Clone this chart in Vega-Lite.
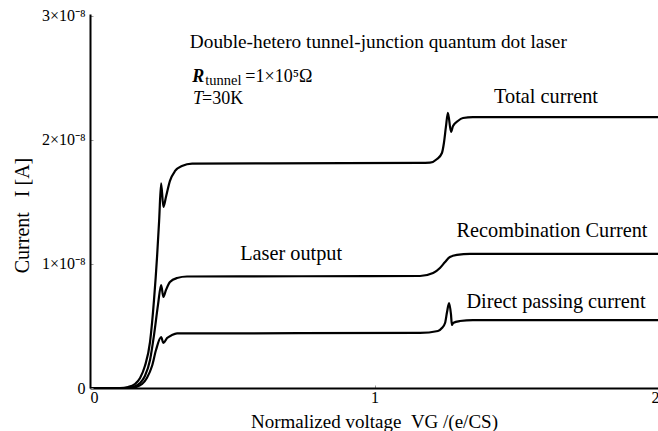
{
  "$schema": "https://vega.github.io/schema/vega-lite/v6.json",
  "width": 569,
  "height": 374,
  "autosize": {"type": "none"},
  "padding": {"left": 90, "top": 14, "right": 0, "bottom": 43},
  "background": "white",
  "config": {
    "font": "Liberation Serif",
    "view": {"stroke": null},
    "axis": {
      "labelFont": "Liberation Serif",
      "titleFont": "Liberation Serif",
      "labelColor": "black",
      "titleColor": "black",
      "labelFontSize": 16,
      "titleFontSize": 20,
      "titleFontWeight": "normal",
      "domainColor": "black",
      "domainWidth": 2,
      "grid": false,
      "tickSize": -3,
      "tickColor": "#999",
      "labelOverlap": false,
      "labelBound": false
    }
  },
  "layer": [
    {
      "data": {
        "values": [
          {"series": "Total current", "v": 0, "i": 0},
          {"series": "Total current", "v": 0.105, "i": 0},
          {"series": "Total current", "v": 0.134, "i": 0.008e-8},
          {"series": "Total current", "v": 0.158, "i": 0.032e-8},
          {"series": "Total current", "v": 0.176, "i": 0.081e-8},
          {"series": "Total current", "v": 0.193, "i": 0.177e-8},
          {"series": "Total current", "v": 0.211, "i": 0.371e-8},
          {"series": "Total current", "v": 0.225, "i": 0.71e-8},
          {"series": "Total current", "v": 0.236, "i": 1.07e-8},
          {"series": "Total current", "v": 0.243, "i": 1.35e-8},
          {"series": "Total current", "v": 0.25, "i": 1.65e-8},
          {"series": "Total current", "v": 0.258, "i": 1.46e-8},
          {"series": "Total current", "v": 0.267, "i": 1.54e-8},
          {"series": "Total current", "v": 0.281, "i": 1.67e-8},
          {"series": "Total current", "v": 0.299, "i": 1.75e-8},
          {"series": "Total current", "v": 0.323, "i": 1.79e-8},
          {"series": "Total current", "v": 0.359, "i": 1.81e-8},
          {"series": "Total current", "v": 1.16, "i": 1.815e-8},
          {"series": "Total current", "v": 1.195, "i": 1.818e-8},
          {"series": "Total current", "v": 1.22, "i": 1.847e-8},
          {"series": "Total current", "v": 1.237, "i": 1.895e-8},
          {"series": "Total current", "v": 1.244, "i": 1.976e-8},
          {"series": "Total current", "v": 1.251, "i": 2.105e-8},
          {"series": "Total current", "v": 1.258, "i": 2.218e-8},
          {"series": "Total current", "v": 1.269, "i": 2.065e-8},
          {"series": "Total current", "v": 1.276, "i": 2.113e-8},
          {"series": "Total current", "v": 1.293, "i": 2.153e-8},
          {"series": "Total current", "v": 1.311, "i": 2.177e-8},
          {"series": "Total current", "v": 1.346, "i": 2.185e-8},
          {"series": "Total current", "v": 2.0, "i": 2.185e-8},
          {"series": "Laser output", "v": 0, "i": 0},
          {"series": "Laser output", "v": 0.123, "i": 0},
          {"series": "Laser output", "v": 0.151, "i": 0.008e-8},
          {"series": "Laser output", "v": 0.176, "i": 0.04e-8},
          {"series": "Laser output", "v": 0.193, "i": 0.097e-8},
          {"series": "Laser output", "v": 0.211, "i": 0.226e-8},
          {"series": "Laser output", "v": 0.225, "i": 0.427e-8},
          {"series": "Laser output", "v": 0.239, "i": 0.67e-8},
          {"series": "Laser output", "v": 0.25, "i": 0.83e-8},
          {"series": "Laser output", "v": 0.258, "i": 0.734e-8},
          {"series": "Laser output", "v": 0.267, "i": 0.79e-8},
          {"series": "Laser output", "v": 0.281, "i": 0.855e-8},
          {"series": "Laser output", "v": 0.306, "i": 0.887e-8},
          {"series": "Laser output", "v": 0.341, "i": 0.899e-8},
          {"series": "Laser output", "v": 1.16, "i": 0.903e-8},
          {"series": "Laser output", "v": 1.206, "i": 0.927e-8},
          {"series": "Laser output", "v": 1.23, "i": 0.968e-8},
          {"series": "Laser output", "v": 1.248, "i": 1.016e-8},
          {"series": "Laser output", "v": 1.265, "i": 1.056e-8},
          {"series": "Laser output", "v": 1.29, "i": 1.073e-8},
          {"series": "Laser output", "v": 1.336, "i": 1.081e-8},
          {"series": "Laser output", "v": 2.0, "i": 1.081e-8},
          {"series": "Direct passing current", "v": 0, "i": 0},
          {"series": "Direct passing current", "v": 0.134, "i": 0},
          {"series": "Direct passing current", "v": 0.162, "i": 0.008e-8},
          {"series": "Direct passing current", "v": 0.183, "i": 0.032e-8},
          {"series": "Direct passing current", "v": 0.2, "i": 0.081e-8},
          {"series": "Direct passing current", "v": 0.218, "i": 0.177e-8},
          {"series": "Direct passing current", "v": 0.232, "i": 0.306e-8},
          {"series": "Direct passing current", "v": 0.25, "i": 0.41e-8},
          {"series": "Direct passing current", "v": 0.258, "i": 0.363e-8},
          {"series": "Direct passing current", "v": 0.271, "i": 0.403e-8},
          {"series": "Direct passing current", "v": 0.288, "i": 0.427e-8},
          {"series": "Direct passing current", "v": 0.306, "i": 0.44e-8},
          {"series": "Direct passing current", "v": 1.16, "i": 0.444e-8},
          {"series": "Direct passing current", "v": 1.223, "i": 0.46e-8},
          {"series": "Direct passing current", "v": 1.237, "i": 0.484e-8},
          {"series": "Direct passing current", "v": 1.248, "i": 0.524e-8},
          {"series": "Direct passing current", "v": 1.255, "i": 0.613e-8},
          {"series": "Direct passing current", "v": 1.262, "i": 0.685e-8},
          {"series": "Direct passing current", "v": 1.269, "i": 0.589e-8},
          {"series": "Direct passing current", "v": 1.272, "i": 0.508e-8},
          {"series": "Direct passing current", "v": 1.276, "i": 0.524e-8},
          {"series": "Direct passing current", "v": 1.3, "i": 0.54e-8},
          {"series": "Direct passing current", "v": 1.346, "i": 0.548e-8},
          {"series": "Direct passing current", "v": 2.0, "i": 0.548e-8}
        ]
      },
      "mark": {"type": "line", "color": "black", "strokeWidth": 2.2, "interpolate": "monotone", "clip": true},
      "encoding": {
        "x": {
          "field": "v", "type": "quantitative",
          "scale": {"domain": [0, 2], "nice": false},
          "axis": {
            "values": [0, 1, 2],
            "labelExpr": "format(datum.value, 'd')",
            "labelPadding": 4,
            "title": "Normalized voltage\u00a0\u00a0VG /(e/CS)",
            "titleFontSize": 19,
            "titleX": 284, "titleY": 33, "titleBaseline": "middle", "titleAlign": "center"
          }
        },
        "y": {
          "field": "i", "type": "quantitative",
          "scale": {"domain": [0, 3.016e-8], "nice": false, "zero": true},
          "axis": {
            "values": [0, 1e-8, 2e-8, 3e-8],
            "labelExpr": "datum.value == 0 ? '0' : format(datum.value * 1e8, 'd') + '×10⁻⁸'",
            "labelPadding": 8,
            "title": "Current\u00a0\u00a0\u00a0I\u00a0[A]",
            "titleX": -68, "titleY": 201, "titleAngle": -90, "titleAlign": "center", "titleBaseline": "middle"
          }
        },
        "detail": {"field": "series"}
      }
    },
    {
      "data": {"values": [{}]},
      "mark": {"type": "text", "text": "Double-hetero tunnel-junction quantum dot laser", "align": "left", "baseline": "middle", "fontSize": 19.3, "font": "Liberation Serif", "color": "black"},
      "encoding": {"x": {"datum": 0.351, "type": "quantitative"}, "y": {"datum": 2.79e-8, "type": "quantitative"}}
    },
    {
      "data": {"values": [{}]},
      "mark": {"type": "text", "text": "R", "align": "left", "baseline": "middle", "fontSize": 18, "fontWeight": "bold", "fontStyle": "italic", "font": "Liberation Serif", "color": "black"},
      "encoding": {"x": {"datum": 0.359, "type": "quantitative"}, "y": {"datum": 2.508e-8, "type": "quantitative"}}
    },
    {
      "data": {"values": [{}]},
      "mark": {"type": "text", "text": "tunnel", "align": "left", "baseline": "middle", "fontSize": 14.5, "font": "Liberation Serif", "color": "black"},
      "encoding": {"x": {"datum": 0.405, "type": "quantitative"}, "y": {"datum": 2.472e-8, "type": "quantitative"}}
    },
    {
      "data": {"values": [{}]},
      "mark": {"type": "text", "text": "=1×10⁵Ω", "align": "left", "baseline": "middle", "fontSize": 18, "font": "Liberation Serif", "color": "black"},
      "encoding": {"x": {"datum": 0.546, "type": "quantitative"}, "y": {"datum": 2.508e-8, "type": "quantitative"}}
    },
    {
      "data": {"values": [{}]},
      "mark": {"type": "text", "text": "T", "align": "left", "baseline": "middle", "fontSize": 18, "fontStyle": "italic", "font": "Liberation Serif", "color": "black"},
      "encoding": {"x": {"datum": 0.362, "type": "quantitative"}, "y": {"datum": 2.33e-8, "type": "quantitative"}}
    },
    {
      "data": {"values": [{}]},
      "mark": {"type": "text", "text": "=30K", "align": "left", "baseline": "middle", "fontSize": 18, "font": "Liberation Serif", "color": "black"},
      "encoding": {"x": {"datum": 0.394, "type": "quantitative"}, "y": {"datum": 2.33e-8, "type": "quantitative"}}
    },
    {
      "data": {"values": [{}]},
      "mark": {"type": "text", "text": "Total current", "align": "center", "baseline": "middle", "fontSize": 20.3, "font": "Liberation Serif", "color": "black"},
      "encoding": {"x": {"datum": 1.603, "type": "quantitative"}, "y": {"datum": 2.347e-8, "type": "quantitative"}}
    },
    {
      "data": {"values": [{}]},
      "mark": {"type": "text", "text": "Laser output", "align": "center", "baseline": "middle", "fontSize": 20.3, "font": "Liberation Serif", "color": "black"},
      "encoding": {"x": {"datum": 0.707, "type": "quantitative"}, "y": {"datum": 1.081e-8, "type": "quantitative"}}
    },
    {
      "data": {"values": [{}]},
      "mark": {"type": "text", "text": "Recombination Current", "align": "center", "baseline": "middle", "fontSize": 20.3, "font": "Liberation Serif", "color": "black"},
      "encoding": {"x": {"datum": 1.624, "type": "quantitative"}, "y": {"datum": 1.266e-8, "type": "quantitative"}}
    },
    {
      "data": {"values": [{}]},
      "mark": {"type": "text", "text": "Direct passing current", "align": "center", "baseline": "middle", "fontSize": 20.3, "font": "Liberation Serif", "color": "black"},
      "encoding": {"x": {"datum": 1.638, "type": "quantitative"}, "y": {"datum": 0.694e-8, "type": "quantitative"}}
    }
  ]
}
